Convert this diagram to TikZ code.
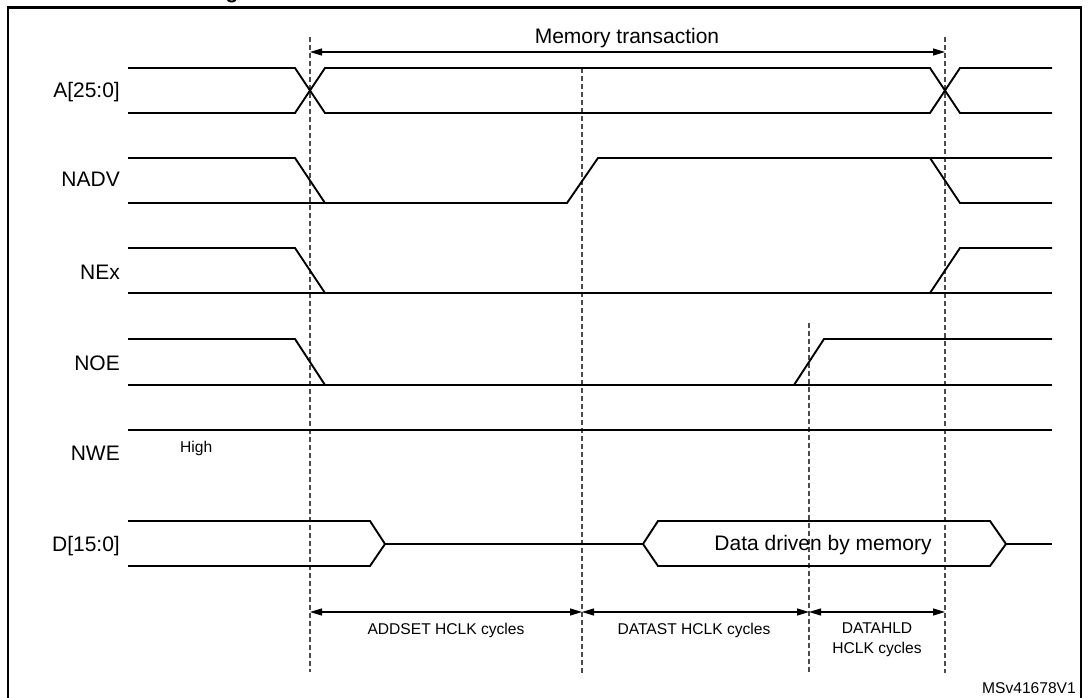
\documentclass[tikz,border=0pt]{standalone}
\usepackage{fontspec}
\setmainfont{Liberation Sans}
\usetikzlibrary{arrows.meta}
\begin{document}
\begin{tikzpicture}[x=1pt,y=-1pt,
  sig/.style={line width=1.9pt, line join=miter},
  guide/.style={draw=black!70, line width=1.1pt, dash pattern=on 5pt off 3pt},
  dim/.style={line width=1.1pt, {Triangle[length=12pt,width=7pt]}-{Triangle[length=12pt,width=7pt]}},
  big/.style={font=\fontsize{21}{25}\selectfont, inner sep=0pt},
  small/.style={font=\fontsize{15.6}{19}\selectfont, inner sep=0pt},
  lbl/.style={big, anchor=base east}]
\useasboundingbox (0,0) rectangle (1088,698);
\fill[white] (0,0) rectangle (1088,698);
% frame
\draw[line width=2.6pt] (8,702) -- (8,7.5) -- (1081,7.5) -- (1081,702);
\node[font=\bfseries\fontsize{21}{25}\selectfont, anchor=base, inner sep=0pt] (title) at (232,-1.4) {g};
% guide lines
\coordinate (g1t) at (310,37);  \coordinate (g1b) at (310,672);
\coordinate (g2t) at (582,68);  \coordinate (g2b) at (582,673);
\coordinate (g3t) at (809,323); \coordinate (g3b) at (809,673);
\coordinate (g4t) at (945,37);  \coordinate (g4b) at (945,673);
\draw[guide] (g1t) -- (g1b);
\draw[guide] (g2t) -- (g2b);
\draw[guide] (g3t) -- (g3b);
\draw[guide] (g4t) -- (g4b);
% labels
\node[lbl] (la) at (120,98) {A[25:0]};
\node[lbl] (lnadv) at (120,187) {NADV};
\node[lbl] (lnex) at (120,279) {NEx};
\node[lbl] (lnoe) at (120,370) {NOE};
\node[lbl] (lnwe) at (120,460) {NWE};
\node[lbl] (ld) at (120,551) {D[15:0]};
\node[small, anchor=base west] (high) at (180,452.5) {High};
% A[25:0]
\draw[sig] (128,68) -- (295,68) -- (325,113) -- (930,113) -- (960,68) -- (1052,68);
\draw[sig] (128,113) -- (295,113) -- (325,68) -- (930,68) -- (960,113) -- (1052,113);
% NADV
\draw[sig] (128,158) -- (295,158) -- (325,203);
\draw[sig] (128,203) -- (567,203) -- (598,158) -- (1052,158);
\draw[sig] (930,158) -- (960,203) -- (1052,203);
% NEx
\draw[sig] (128,248) -- (295,248) -- (325,293);
\draw[sig] (128,293) -- (1052,293);
\draw[sig] (930,293) -- (960,248) -- (1052,248);
% NOE
\draw[sig] (128,339) -- (295,339) -- (325,385);
\draw[sig] (128,385) -- (1052,385);
\draw[sig] (794,385) -- (824,339) -- (1052,339);
% NWE
\draw[sig] (128,430) -- (1052,430);
% D[15:0]
\draw[sig] (128,521) -- (370,521) -- (385,544) -- (370,566) -- (128,566);
\draw[sig] (385,544) -- (643,544);
\draw[sig] (643,544) -- (658,521) -- (990,521) -- (1006,544) -- (990,566) -- (658,566) -- cycle;
\draw[sig] (1006,544) -- (1052,544);
\node[big, anchor=base] (data) at (823,550) {Data driven by memory};
% memory transaction
\coordinate (m1) at (310,52);
\coordinate (m2) at (945,52);
\draw[dim] (m1) -- (m2);
\node[big, anchor=base] (mt) at (627,44) {Memory transaction};
% bottom dimensions
\coordinate (b1) at (310,612);
\coordinate (b2) at (582,612);
\coordinate (b3) at (809,612);
\coordinate (b4) at (945,612);
\draw[dim] (b1) -- (b2);
\draw[dim] (b2) -- (b3);
\draw[dim] (b3) -- (b4);
\node[small, anchor=base] (addset) at (446,634) {ADDSET HCLK cycles};
\node[small, anchor=base] (datast) at (694,634) {DATAST HCLK cycles};
\node[small, anchor=base] (datahld1) at (877,633) {DATAHLD};
\node[small, anchor=base] (datahld2) at (877,653) {HCLK cycles};
\node[small, anchor=base east] (code) at (1076,693) {MSv41678V1};
\end{tikzpicture}
\end{document}
